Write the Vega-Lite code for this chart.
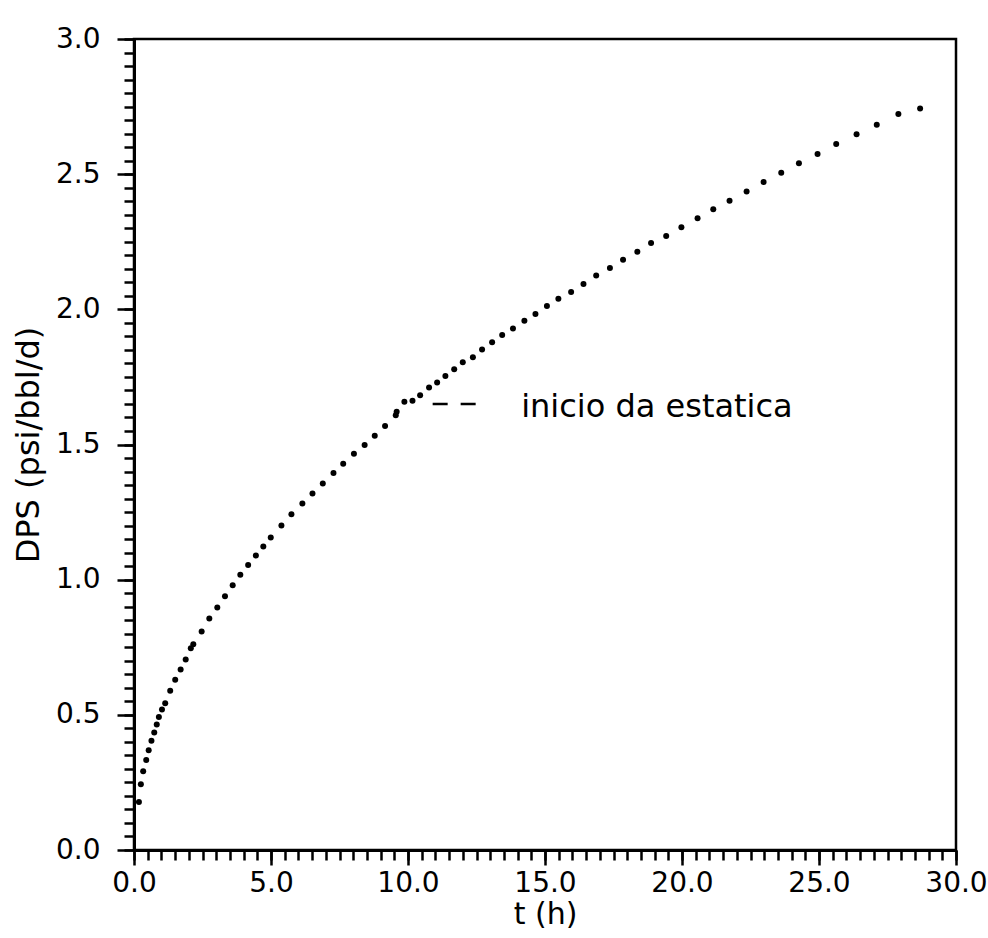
{
  "$schema": "https://vega.github.io/schema/vega-lite/v6.json",
  "width": 822,
  "height": 811,
  "autosize": {"type": "none"},
  "padding": {"left": 134, "top": 39, "right": 32, "bottom": 88},
  "background": "white",
  "config": {
    "view": {"stroke": "black", "strokeWidth": 2.5},
    "font": "DejaVu Sans"
  },
  "datasets": {
    "points": [
      {"t": 0.18, "dps": 0.178}, {"t": 0.25, "dps": 0.243}, {"t": 0.335, "dps": 0.291}, {"t": 0.446, "dps": 0.333},
      {"t": 0.536, "dps": 0.369}, {"t": 0.637, "dps": 0.404}, {"t": 0.739, "dps": 0.435}, {"t": 0.83, "dps": 0.464},
      {"t": 0.908, "dps": 0.492}, {"t": 1.021, "dps": 0.52}, {"t": 1.139, "dps": 0.543}, {"t": 1.321, "dps": 0.589},
      {"t": 1.504, "dps": 0.63}, {"t": 1.702, "dps": 0.668}, {"t": 1.887, "dps": 0.705}, {"t": 2.073, "dps": 0.746},
      {"t": 2.164, "dps": 0.761}, {"t": 2.469, "dps": 0.808}, {"t": 2.749, "dps": 0.856}, {"t": 3.04, "dps": 0.897},
      {"t": 3.321, "dps": 0.939}, {"t": 3.602, "dps": 0.979}, {"t": 3.88, "dps": 1.018}, {"t": 4.166, "dps": 1.054},
      {"t": 4.448, "dps": 1.089}, {"t": 4.72, "dps": 1.123}, {"t": 4.991, "dps": 1.156}, {"t": 5.38, "dps": 1.2},
      {"t": 5.745, "dps": 1.242}, {"t": 6.145, "dps": 1.282}, {"t": 6.514, "dps": 1.319}, {"t": 6.89, "dps": 1.356},
      {"t": 7.28, "dps": 1.395}, {"t": 7.635, "dps": 1.429}, {"t": 8.026, "dps": 1.466}, {"t": 8.417, "dps": 1.498},
      {"t": 8.786, "dps": 1.532}, {"t": 9.163, "dps": 1.568}, {"t": 9.553, "dps": 1.608}, {"t": 9.586, "dps": 1.621},
      {"t": 9.868, "dps": 1.658}, {"t": 10.164, "dps": 1.662}, {"t": 10.442, "dps": 1.682}, {"t": 10.769, "dps": 1.711},
      {"t": 11.063, "dps": 1.729}, {"t": 11.365, "dps": 1.753}, {"t": 11.686, "dps": 1.778}, {"t": 11.999, "dps": 1.804},
      {"t": 12.368, "dps": 1.823}, {"t": 12.703, "dps": 1.851}, {"t": 13.07, "dps": 1.878}, {"t": 13.437, "dps": 1.905},
      {"t": 13.831, "dps": 1.929}, {"t": 14.248, "dps": 1.958}, {"t": 14.652, "dps": 1.983}, {"t": 15.07, "dps": 2.012},
      {"t": 15.488, "dps": 2.039}, {"t": 15.953, "dps": 2.064}, {"t": 16.404, "dps": 2.094}, {"t": 16.868, "dps": 2.125},
      {"t": 17.369, "dps": 2.153}, {"t": 17.848, "dps": 2.183}, {"t": 18.37, "dps": 2.213}, {"t": 18.871, "dps": 2.245},
      {"t": 19.423, "dps": 2.271}, {"t": 19.978, "dps": 2.304}, {"t": 20.568, "dps": 2.337}, {"t": 21.141, "dps": 2.37},
      {"t": 21.735, "dps": 2.402}, {"t": 22.358, "dps": 2.436}, {"t": 22.978, "dps": 2.471}, {"t": 23.622, "dps": 2.505},
      {"t": 24.267, "dps": 2.54}, {"t": 24.947, "dps": 2.575}, {"t": 25.628, "dps": 2.612}, {"t": 26.371, "dps": 2.648},
      {"t": 27.108, "dps": 2.683}, {"t": 27.897, "dps": 2.723}, {"t": 28.69, "dps": 2.743}
    ],
    "marker": [{"t": 10.9, "t2": 12.5, "dps": 1.65}],
    "note": [{"t": 14.13, "dps": 1.64, "label": "inicio da estatica"}]
  },
  "resolve": {"axis": {"x": "independent", "y": "independent"}},
  "layer": [
    {
      "data": {"name": "points"},
      "mark": {"type": "circle", "size": 36, "color": "black", "opacity": 1},
      "encoding": {
        "x": {
          "field": "t", "type": "quantitative",
          "scale": {"domain": [0, 30], "nice": false, "zero": false},
          "axis": {
            "orient": "bottom",
            "title": "t (h)",
            "grid": false,
            "values": [0, 5, 10, 15, 20, 25, 30],
            "format": ".1f",
            "labelOverlap": false,
            "labelFlush": false,
            "labelBound": false,
            "labelFont": "DejaVu Sans",
            "labelFontSize": 28,
            "labelColor": "black",
            "labelPadding": 4,
            "tickSize": 15,
            "tickWidth": 2.5,
            "tickColor": "black",
            "domainColor": "black",
            "domainWidth": 3,
            "titleFont": "DejaVu Sans",
            "titleFontSize": 30,
            "titleFontWeight": "normal",
            "titleColor": "black",
            "titlePadding": 2
          }
        },
        "y": {
          "field": "dps", "type": "quantitative",
          "scale": {"domain": [0, 3], "nice": false, "zero": false},
          "axis": {
            "orient": "left",
            "title": "DPS (psi/bbl/d)",
            "grid": false,
            "values": [0, 0.5, 1, 1.5, 2, 2.5, 3],
            "format": ".1f",
            "labelOverlap": false,
            "labelFlush": false,
            "labelBound": false,
            "labelFont": "DejaVu Sans",
            "labelFontSize": 28,
            "labelColor": "black",
            "labelPadding": 17,
            "tickSize": 17,
            "tickWidth": 2.5,
            "tickColor": "black",
            "domainColor": "black",
            "domainWidth": 3,
            "titleFont": "DejaVu Sans",
            "titleFontSize": 32,
            "titleFontWeight": "normal",
            "titleColor": "black",
            "titlePadding": 10
          }
        }
      }
    },
    {
      "data": {"name": "marker"},
      "mark": {"type": "rule", "color": "black", "strokeWidth": 2.5, "strokeDash": [15, 13]},
      "encoding": {
        "x": {
          "field": "t", "type": "quantitative",
          "scale": {"domain": [0, 30], "nice": false, "zero": false},
          "axis": {
            "orient": "bottom",
            "title": null,
            "grid": false,
            "labels": false,
            "domain": false,
            "values": [0,0.5,1,1.5,2,2.5,3,3.5,4,4.5,5,5.5,6,6.5,7,7.5,8,8.5,9,9.5,10,10.5,11,11.5,12,12.5,13,13.5,14,14.5,15,15.5,16,16.5,17,17.5,18,18.5,19,19.5,20,20.5,21,21.5,22,22.5,23,23.5,24,24.5,25,25.5,26,26.5,27,27.5,28,28.5,29,29.5,30],
            "tickSize": 10,
            "tickWidth": 2.5,
            "tickColor": "black"
          }
        },
        "x2": {"field": "t2"},
        "y": {
          "field": "dps", "type": "quantitative",
          "scale": {"domain": [0, 3], "nice": false, "zero": false},
          "axis": {
            "orient": "left",
            "title": null,
            "grid": false,
            "labels": false,
            "domain": false,
            "values": [0,0.05,0.1,0.15,0.2,0.25,0.3,0.35,0.4,0.45,0.5,0.55,0.6,0.65,0.7,0.75,0.8,0.85,0.9,0.95,1,1.05,1.1,1.15,1.2,1.25,1.3,1.35,1.4,1.45,1.5,1.55,1.6,1.65,1.7,1.75,1.8,1.85,1.9,1.95,2,2.05,2.1,2.15,2.2,2.25,2.3,2.35,2.4,2.45,2.5,2.55,2.6,2.65,2.7,2.75,2.8,2.85,2.9,2.95,3],
            "tickSize": 10,
            "tickWidth": 2.5,
            "tickColor": "black"
          }
        }
      }
    },
    {
      "data": {"name": "note"},
      "mark": {"type": "text", "align": "left", "baseline": "middle", "font": "DejaVu Sans", "fontSize": 32, "color": "black"},
      "encoding": {
        "x": {"field": "t", "type": "quantitative", "axis": null},
        "y": {"field": "dps", "type": "quantitative", "axis": null},
        "text": {"field": "label"}
      }
    }
  ]
}
